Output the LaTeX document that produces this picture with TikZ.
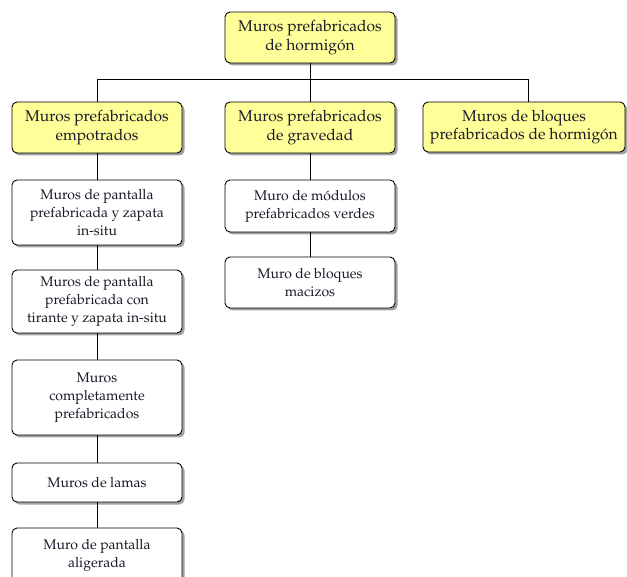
\documentclass[tikz,border=0pt]{standalone}
\usepackage[T1]{fontenc}
\usepackage{mathpazo}
\usetikzlibrary{shadows}
\definecolor{boxyellow}{RGB}{255,255,153}
\definecolor{shadowgray}{RGB}{100,100,100}
\definecolor{txt}{RGB}{25,25,40}
\tikzset{
 base/.style={draw=black, line width=0.9pt, rounded corners=5pt, align=center, inner sep=0pt, text=txt,
   drop shadow={shadow xshift=2.5pt, shadow yshift=-2.5pt, fill=shadowgray, opacity=0.6}},
 headbox/.style={base, fill=boxyellow, font=\fontsize{15.6}{18.5}\selectfont},
 itembox/.style={base, fill=white, font=\fontsize{14}{18}\selectfont},
 link/.style={draw=black, line width=0.8pt}
}
\begin{document}
\begin{tikzpicture}[x=1pt,y=-1pt]
\useasboundingbox (0,0) rectangle (627,577);
\clip (0,0) rectangle (627,577);
% level 1
\node[headbox, minimum width=170pt, minimum height=51pt] (top) at (310,37.5) {Muros prefabricados\\de hormig\'on};
% level 2
\node[headbox, minimum width=170pt, minimum height=51pt] (emp) at (97,127.5) {Muros prefabricados\\empotrados};
\node[headbox, minimum width=170pt, minimum height=51pt] (grav) at (310,127.5) {Muros prefabricados\\de gravedad};
\node[headbox, minimum width=202pt, minimum height=50pt] (bloq) at (524,127) {Muros de bloques\\prefabricados de hormig\'on};
% left column
\node[itembox, minimum width=170pt, minimum height=65pt] (e1) at (97,212.5) {Muros de pantalla\\prefabricada y zapata\\in-situ};
\node[itembox, minimum width=170pt, minimum height=63pt] (e2) at (97,301.5) {Muros de pantalla\\prefabricada con\\tirante y zapata in-situ};
\node[itembox, minimum width=170pt, minimum height=75pt] (e3) at (97,397.5) {Muros\\completamente\\prefabricados};
\node[itembox, minimum width=170pt, minimum height=39pt] (e4) at (97,482.5) {Muros de lamas};
\node[itembox, minimum width=170pt, minimum height=54pt] (e5) at (97,555) {Muro de pantalla\\aligerada};
% middle column
\node[itembox, minimum width=170pt, minimum height=52pt] (g1) at (310,206) {Muro de m\'odulos\\prefabricados verdes};
\node[itembox, minimum width=170pt, minimum height=51pt] (g2) at (310,282.5) {Muro de bloques\\macizos};
% connectors
\coordinate (bus) at (310,79);
\draw[link] (top.south) -- (bus);
\draw[link] (emp.north) |- (bus);
\draw[link] (bus) -- (grav.north);
\draw[link] (bus) -| ([xshift=4pt]bloq.north);
\draw[link] (emp.south) -- (e1.north);
\draw[link] (e1.south) -- (e2.north);
\draw[link] (e2.south) -- (e3.north);
\draw[link] (e3.south) -- (e4.north);
\draw[link] (e4.south) -- (e5.north);
\draw[link] (grav.south) -- (g1.north);
\draw[link] (g1.south) -- (g2.north);
\end{tikzpicture}
\end{document}
